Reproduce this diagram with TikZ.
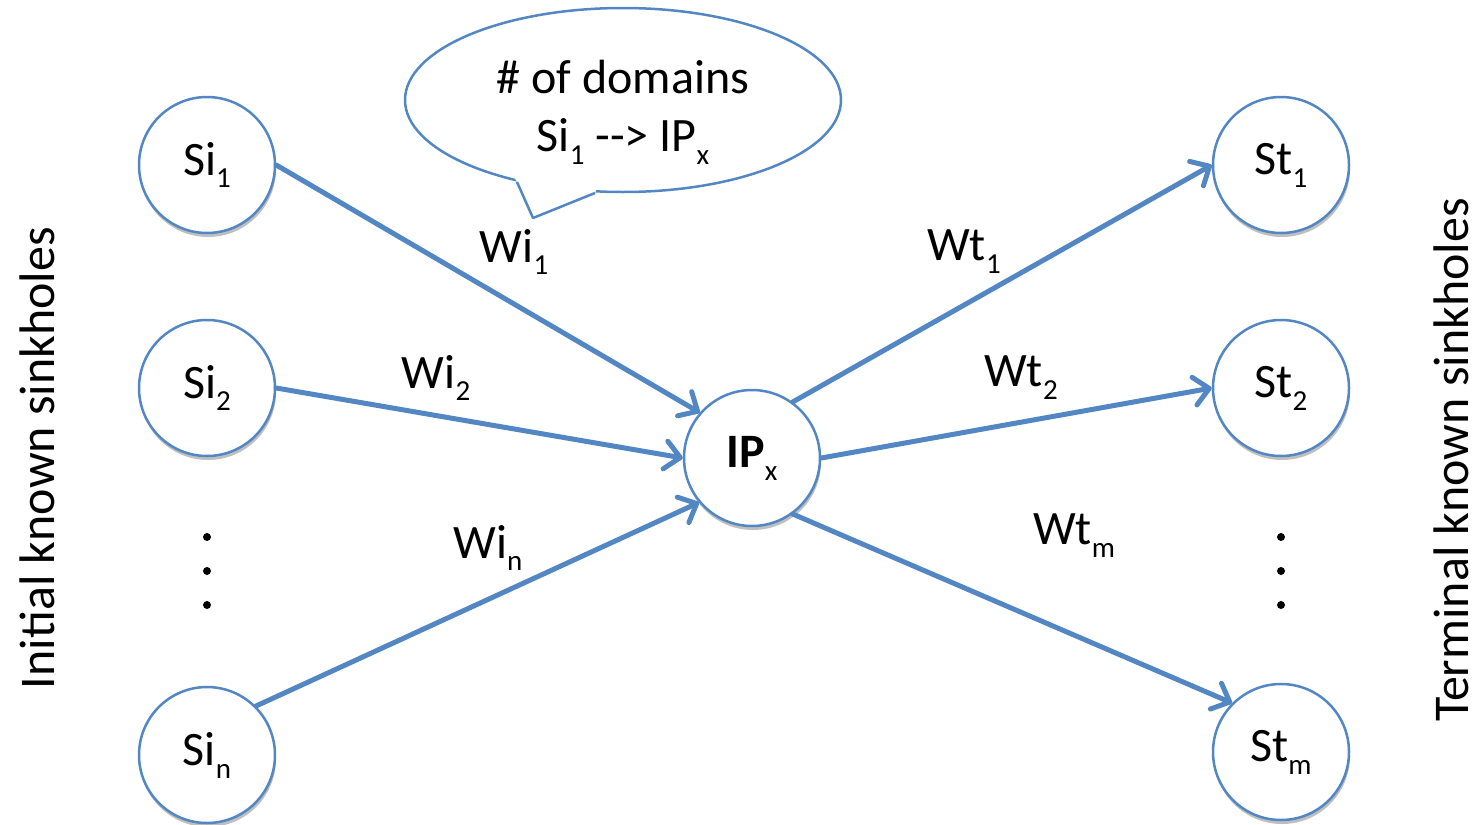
\documentclass[tikz,border=0pt]{standalone}
\usepackage{fontspec}
\setmainfont{Carlito}
\usetikzlibrary{arrows.meta,shadows}
\definecolor{lblue}{RGB}{83,135,196}
\newcommand\subx[1]{\raisebox{-0.27em}{\fontsize{29}{29}\selectfont #1}}
\tikzset{
  sink/.style={circle, draw=lblue, line width=2.5pt, fill=white, minimum size=136pt, inner sep=0pt,
    font=\fontsize{48}{56}\selectfont,
    drop shadow={shadow xshift=1pt, shadow yshift=-4pt, opacity=0.25, fill=black}},
  link/.style={draw=lblue, line width=5pt, line cap=round,
    -{Straight Barb[length=15pt,width=28pt,line join=round,line cap=round]}},
  wlab/.style={font=\fontsize{48}{56}\selectfont, inner sep=0pt},
  side/.style={font=\fontsize{50}{60}\selectfont, rotate=90, inner sep=0pt, anchor=base},
  dotmark/.style={circle, fill=black, minimum size=8pt, inner sep=0pt}
}
\begin{document}
\begin{tikzpicture}[x=1pt, y=-1pt]
\useasboundingbox (0,0) rectangle (1484,825);
% callout
\draw[lblue, line width=2.5pt, fill=white] (623,100) ellipse [x radius=218, y radius=92];
\fill[white] (510,170) -- (517,182) -- (533,218) -- (595,193) -- (600,180) -- cycle;
\draw[lblue, line width=2.5pt, line join=round] (517,182) -- (533,218) -- (595,193);
\node[font=\fontsize{48}{56}\selectfont, align=center] (callout) at (623,112)
  {\# of domains\\[2pt] Si\subx{1} -{}-> IP\subx{x}};
% nodes
\node[sink] (Si1) at (207,165) {Si\subx{1}};
\node[sink] (Si2) at (207,388) {Si\subx{2}};
\node[sink] (Sin) at (207,755) {Si\subx{n}};
\node[sink] (IP) at (752,458) {\textbf{IP}\subx{x}};
\node[sink] (St1) at (1281,165) {St\subx{1}};
\node[sink] (St2) at (1281,388) {St\subx{2}};
\node[sink] (Stm) at (1281,752) {St\subx{m}};
% dots
\node[dotmark] (dl1) at (207,537) {};
\node[dotmark] (dl2) at (207,571) {};
\node[dotmark] (dl3) at (207,605) {};
\node[dotmark] (dr1) at (1281,537) {};
\node[dotmark] (dr2) at (1281,571) {};
\node[dotmark] (dr3) at (1281,605) {};
% connectors
\draw[link] (Si1.east) -- (IP.139);
\draw[link] (Si2.east) -- (IP.west);
\draw[link] (Sin.45) -- (IP.220);
\draw[link] (IP.54) -- (St1.west);
\draw[link] (IP.east) -- (St2.west);
\draw[link] (IP.-54) -- (Stm.135);
% weights
\node[wlab] (wi1) at (514,252) {Wi\subx{1}};
\node[wlab] (wi2) at (436,378) {Wi\subx{2}};
\node[wlab] (win) at (488,548) {Wi\subx{n}};
\node[wlab] (wt1) at (964,252) {Wt\subx{1}};
\node[wlab] (wt2) at (1021,378) {Wt\subx{2}};
\node[wlab] (wtm) at (1074,536) {Wt\subx{m}};
% side labels
\node[side] (left) at (54,458) {Initial known sinkholes};
\node[side] (right) at (1468,460) {Terminal known sinkholes};
\end{tikzpicture}
\end{document}
